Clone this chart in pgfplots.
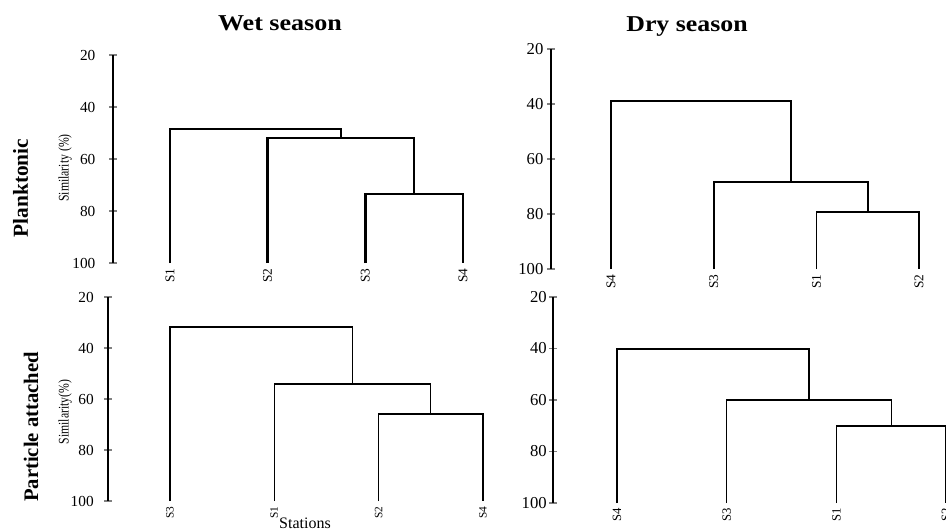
\documentclass[border=0pt]{standalone}
\usepackage{fontspec}
\setmainfont{Liberation Serif}
\usepackage{pgfplots}
\pgfplotsset{compat=1.18}

\pgfplotsset{dendro/.style={
  scale only axis, enlargelimits=false,
  y dir=reverse, ymin=20, ymax=100, xmax=4.3,
  axis y line=left, axis x line=bottom,
  x axis line style={draw=none},
  y axis line style={-},
  ytick={20,40,60,80,100},
  tick align=center, major tick length=6pt,
  xtick={1,2,3,4},
  xtick style={draw=none},
  xticklabel style={rotate=90, anchor=east, inner sep=1pt, font=\fontsize{10}{12}\selectfont},
  yticklabel style={anchor=east, inner sep=0pt},
  /pgf/number format/assume math mode=true,
  anchor=south west,
  clip=false,
}}

\begin{document}
\begin{tikzpicture}
\path[use as bounding box] (0pt,0pt) rectangle (709.5pt,-396.75pt);
\clip (0pt,0pt) rectangle (709.5pt,-396.75pt);

% Wet season - Planktonic
\begin{axis}[dendro, at={(84.75pt,-197.25pt)}, width=284.5pt, height=156pt, xmin=0.417,
  xticklabels={S1,S2,S3,S4},
  y axis line style={line width=2.2pt}, ytick style={line width=1.8pt},
  yticklabel style={xshift=-10pt, font=\fontsize{11.5}{13}\selectfont}]
\addplot[black, line width=1.8pt] coordinates {(3,100) (3,73.5) (4,73.5) (4,100)};
\addplot[black, line width=1.8pt] coordinates {(2,100) (2,51.9) (3.5,51.9) (3.5,73.5)};
\addplot[black, line width=1.8pt] coordinates {(1,100) (1,48.5) (2.75,48.5) (2.75,51.9)};
\end{axis}

% Dry season - Planktonic
\begin{axis}[dendro, at={(413.25pt,-201.75pt)}, width=299.2pt, height=165pt, xmin=0.416,
  xticklabels={S4,S3,S1,S2},
  y axis line style={line width=1.5pt}, ytick style={line width=1.3pt},
  yticklabel style={xshift=-2.5pt, font=\fontsize{12.5}{14}\selectfont}]
\addplot[black, line width=1.3pt] coordinates {(3,100) (3,79.3) (4,79.3) (4,100)};
\addplot[black, line width=1.3pt] coordinates {(2,100) (2,68.4) (3.5,68.4) (3.5,79.3)};
\addplot[black, line width=1.3pt] coordinates {(1,100) (1,38.9) (2.75,38.9) (2.75,68.4)};
\end{axis}

% Wet season - Particle attached
\begin{axis}[dendro, at={(81pt,-375.75pt)}, width=304.6pt, height=153pt, xmin=0.406,
  xticklabels={S3,S1,S2,S4},
  xticklabel style={font=\fontsize{8.5}{10}\selectfont},
  y axis line style={line width=1.5pt}, ytick style={line width=1.3pt},
  yticklabel style={xshift=-7.5pt, font=\fontsize{11.5}{13}\selectfont}]
\addplot[black, line width=1pt] coordinates {(3,100) (3,65.9) (4,65.9) (4,100)};
\addplot[black, line width=1pt] coordinates {(2,100) (2,54.1) (3.5,54.1) (3.5,65.9)};
\addplot[black, line width=1pt] coordinates {(1,100) (1,31.8) (2.75,31.8) (2.75,54.1)};
\end{axis}

% Dry season - Particle attached
\begin{axis}[dendro, at={(414.75pt,-377.25pt)}, width=319.5pt, height=154.5pt, xmin=0.417,
  xticklabels={S4,S3,S1,S2},
  xticklabel style={font=\fontsize{9.5}{10}\selectfont},
  y axis line style={line width=1.5pt}, ytick style={line width=1.3pt},
  yticklabel style={xshift=-1.5pt, font=\fontsize{12.5}{14}\selectfont}]
\addplot[black, line width=1pt] coordinates {(3,100) (3,70.1) (4,70.1) (4,100)};
\addplot[black, line width=1pt] coordinates {(2,100) (2,60) (3.5,60) (3.5,70.1)};
\addplot[black, line width=1pt] coordinates {(1,100) (1,40.2) (2.75,40.2) (2.75,60)};
\end{axis}

\node[font=\bfseries\fontsize{17}{20}\selectfont] at (210pt,-17.25pt) {\scalebox{1.15}[1]{Wet season}};
\node[font=\bfseries\fontsize{17}{20}\selectfont] at (515.25pt,-20.25pt) {\scalebox{1.14}[1]{Dry season}};
\node[rotate=90, font=\bfseries\fontsize{16}{18}\selectfont] at (15.5pt,-141pt) {Planktonic};
\node[rotate=90, font=\bfseries\fontsize{15.5}{18}\selectfont] at (23.25pt,-320.25pt) {Particle attached};
\node[rotate=90, font=\fontsize{11}{12}\selectfont] at (48.75pt,-126pt) {\scalebox{0.8}[1]{Similarity (\%)}};
\node[rotate=90, font=\fontsize{11}{12}\selectfont] at (48.75pt,-309pt) {\scalebox{0.8}[1]{Similarity(\%)}};
\node[font=\fontsize{12}{14}\selectfont] at (228.75pt,-392.5pt) {Stations};
\node[font=\fontsize{12}{14}\selectfont] at (570pt,-402pt) {Stations};
\end{tikzpicture}
\end{document}
